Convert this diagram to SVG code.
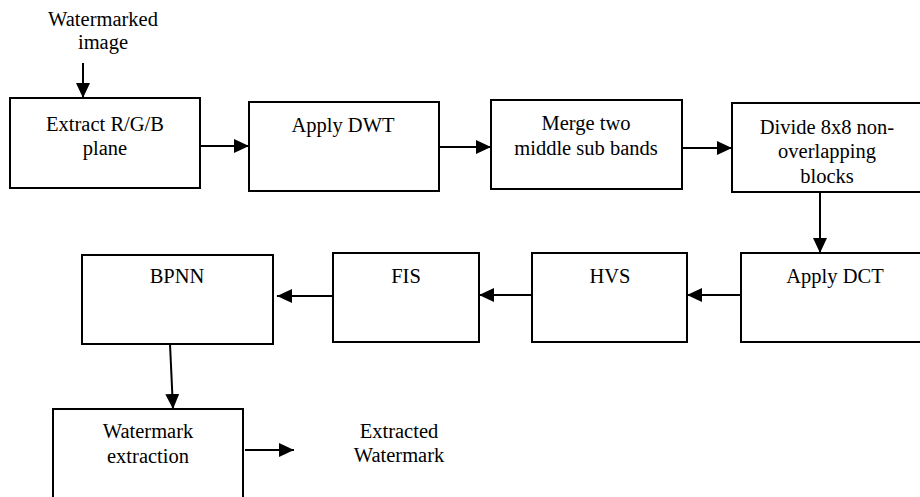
<svg xmlns="http://www.w3.org/2000/svg" width="920" height="497" viewBox="0 0 920 497">
<style>
.box{fill:#fff;stroke:#000;stroke-width:2}
.lbl{font-family:'Liberation Serif','Times New Roman',serif;font-size:20.5px;fill:#000;text-anchor:middle}
.con{stroke:#000;stroke-width:2;fill:none;marker-end:url(#ah)}
</style>
<defs>
<marker id="ah" markerUnits="userSpaceOnUse" markerWidth="16" markerHeight="15" refX="15" refY="7" orient="auto">
<path d="M0,0 L15,7 L0,14 z" fill="#000"/>
</marker>
</defs>
<rect width="920" height="497" fill="#fff"/>
<g id="input">
<text class="lbl" x="103" y="26">Watermarked</text>
<text class="lbl" x="103" y="49">image</text>
</g>
<g id="extract">
<rect class="box" x="10" y="98" width="190" height="90"/>
<text class="lbl" x="105" y="131">Extract R/G/B</text>
<text class="lbl" x="105" y="155">plane</text>
</g>
<g id="dwt">
<rect class="box" x="249" y="102" width="190" height="89"/>
<text class="lbl" x="343" y="132">Apply DWT</text>
</g>
<g id="merge">
<rect class="box" x="491" y="100" width="191" height="89"/>
<text class="lbl" x="586" y="130">Merge two</text>
<text class="lbl" x="586" y="155">middle sub bands</text>
</g>
<g id="divide">
<rect class="box" x="732" y="103" width="190" height="89"/>
<text class="lbl" x="827" y="134">Divide 8x8 non-</text>
<text class="lbl" x="827" y="158">overlapping</text>
<text class="lbl" x="827" y="183">blocks</text>
</g>
<g id="dct">
<rect class="box" x="741" y="253" width="188" height="89"/>
<text class="lbl" x="835" y="283">Apply DCT</text>
</g>
<g id="hvs">
<rect class="box" x="532" y="253" width="155" height="89"/>
<text class="lbl" x="610" y="283">HVS</text>
</g>
<g id="fis">
<rect class="box" x="333" y="253" width="146" height="89"/>
<text class="lbl" x="406" y="283">FIS</text>
</g>
<g id="bpnn">
<rect class="box" x="82" y="255" width="191" height="89"/>
<text class="lbl" x="177" y="283">BPNN</text>
</g>
<g id="wmextract">
<rect class="box" x="53" y="409" width="190" height="100"/>
<text class="lbl" x="148" y="438">Watermark</text>
<text class="lbl" x="148" y="463">extraction</text>
</g>
<g id="output">
<text class="lbl" x="399" y="438">Extracted</text>
<text class="lbl" x="399" y="462">Watermark</text>
</g>
<g id="connectors">
<line class="con" x1="83" y1="63" x2="83" y2="98"/>
<line class="con" x1="200" y1="146" x2="249" y2="146"/>
<line class="con" x1="439" y1="147" x2="491" y2="147"/>
<line class="con" x1="682" y1="148" x2="732" y2="148"/>
<line class="con" x1="820" y1="192" x2="820" y2="253"/>
<line class="con" x1="741" y1="295" x2="687" y2="295"/>
<line class="con" x1="532" y1="295" x2="479" y2="295"/>
<line class="con" x1="333" y1="296" x2="277" y2="296"/>
<line class="con" x1="170" y1="344" x2="173" y2="409"/>
<line class="con" x1="245" y1="450" x2="294" y2="450"/>
</g>
</svg>
